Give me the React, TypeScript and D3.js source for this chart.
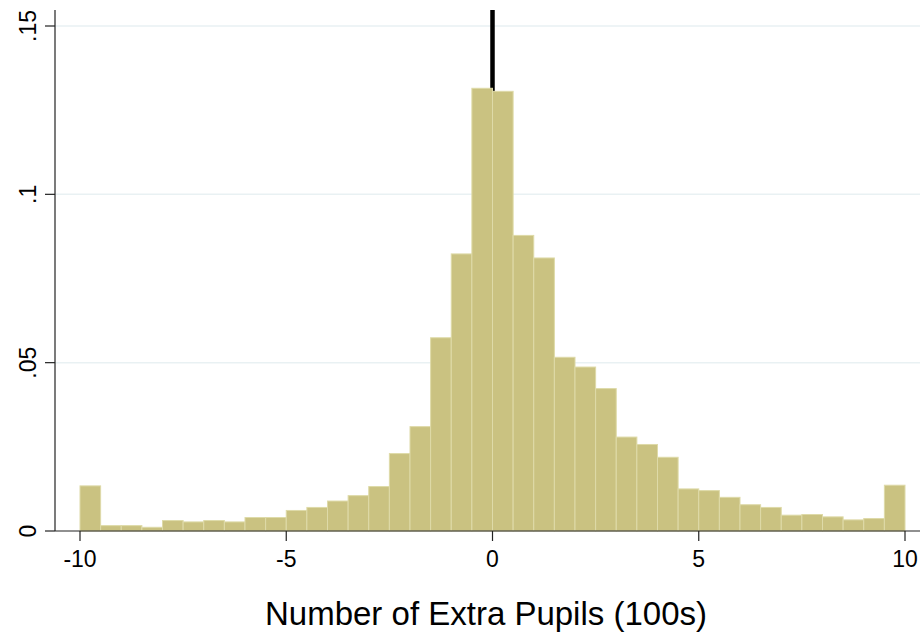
import React from "react";
import * as d3 from "d3";

const binStarts: number[] = d3.range(40).map((i) => -10 + i * 0.5);
const densities: number[] = [
  0.0134, 0.0016, 0.0016, 0.0011, 0.0031, 0.0027, 0.0031, 0.0027, 0.004, 0.004,
  0.0061, 0.007, 0.0089, 0.0105, 0.0132, 0.023, 0.031, 0.0574, 0.0823, 0.1315,
  0.1306, 0.0878, 0.0811, 0.0516, 0.0487, 0.0423, 0.0279, 0.0257, 0.0219, 0.0125,
  0.012, 0.01, 0.0078, 0.007, 0.0047, 0.0049, 0.0042, 0.0033, 0.0037, 0.0136,
];
const binWidth = 0.5;
const xTicks: number[] = [-10, -5, 0, 5, 10];
const yTicks: number[] = [0, 0.05, 0.1, 0.15];
const yTickLabels: string[] = ["0", ".05", ".1", ".15"];
const xTitle = "Number of Extra Pupils (100s)";
const refLineX = 0;

const W = 924;
const H = 633;
const FONT = "'Liberation Sans', Arial, sans-serif";

export default function App() {
  const x = d3.scaleLinear().domain([-10, 10]).range([80, 905]);
  const y = d3.scaleLinear().domain([0, 0.15]).range([531, 26]);
  const axisLeft = 55;
  const axisRight = 920;
  const plotTop = 10;

  return (
    <svg
      width={W}
      height={H}
      style={{ position: "absolute", left: 0, top: 0, background: "#fff" }}
    >
      {yTicks.slice(1).map((t) => (
        <line
          key={"g" + t}
          x1={axisLeft}
          x2={axisRight}
          y1={y(t)}
          y2={y(t)}
          stroke="#e9f1f3"
          strokeWidth={1.5}
        />
      ))}
      <line
        x1={x(refLineX)}
        x2={x(refLineX)}
        y1={plotTop}
        y2={y(0)}
        stroke="#000"
        strokeWidth={4.5}
      />
      {binStarts.map((b, i) => (
        <rect
          key={"b" + i}
          x={x(b)}
          y={y(densities[i])}
          width={x(b + binWidth) - x(b)}
          height={y(0) - y(densities[i])}
          fill="#cac281"
          stroke="#dedaa8"
          strokeWidth={1}
        />
      ))}
      <line x1={axisLeft} x2={axisLeft} y1={plotTop} y2={y(0)} stroke="#222" strokeWidth={1.2} />
      {yTicks.map((t, i) => (
        <g key={"y" + t}>
          <line x1={axisLeft - 10} x2={axisLeft} y1={y(t)} y2={y(t)} stroke="#222" strokeWidth={1.2} />
          <text
            transform={`translate(36,${y(t)}) rotate(-90)`}
            textAnchor="middle"
            fontFamily={FONT}
            fontSize={23}
            fill="#000"
          >
            {yTickLabels[i]}
          </text>
        </g>
      ))}
      <line x1={axisLeft} x2={axisRight} y1={y(0)} y2={y(0)} stroke="#222" strokeWidth={1.2} />
      {xTicks.map((t) => (
        <g key={"x" + t}>
          <line x1={x(t)} x2={x(t)} y1={y(0)} y2={y(0) + 10} stroke="#222" strokeWidth={1.2} />
          <text
            x={x(t)}
            y={567}
            textAnchor="middle"
            fontFamily={FONT}
            fontSize={23}
            fill="#000"
          >
            {t}
          </text>
        </g>
      ))}
      <text
        x={486}
        y={625}
        textAnchor="middle"
        fontFamily={FONT}
        fontSize={33}
        fill="#000"
      >
        {xTitle}
      </text>
    </svg>
  );
}
